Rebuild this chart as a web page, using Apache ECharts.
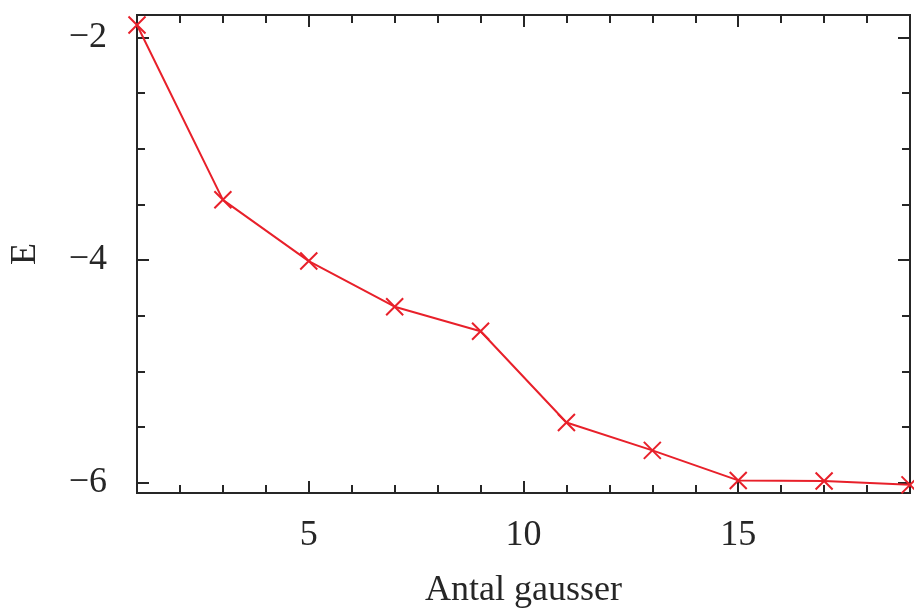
<!DOCTYPE html>
<html>
<head>
<meta charset="utf-8">
<script src="https://cdn.jsdelivr.net/npm/echarts@6/dist/echarts.min.js"></script>
<style>html,body{margin:0;padding:0;background:#fff;}#c{width:914px;height:609px;}</style>
</head>
<body>
<div id="c"></div>
<script>
const xValues = [1, 3, 5, 7, 9, 11, 13, 15, 17, 19];
const energies = [-1.89, -3.46, -4.01, -4.42, -4.64, -5.46, -5.71, -5.98, -5.985, -6.02];
const xMajorTicks = [5, 10, 15];
const xMinorTicks = [2, 3, 4, 6, 7, 8, 9, 11, 12, 13, 14, 16, 17, 18];
const yMajorTicks = [-6, -4, -2];
const yMinorTicks = [-5.5, -5, -4.5, -3.5, -3, -2.5];
const xName = 'Antal gausser';
const yName = 'E';

const font = 'Liberation Serif';
const axisColor = '#262626';
const lineColor = '#e8202a';

function fmt(v) { return (v < 0 ? '\u2212' : '') + Math.abs(v); }

function xAx(pos, ticks, len, labels) {
  return {
    type: 'value', position: pos, min: 1, max: 19,
    axisLine: { show: false },
    splitLine: { show: false },
    axisTick: { show: true, inside: true, length: len, customValues: ticks,
      lineStyle: { color: axisColor, width: 2 } },
    axisLabel: labels ? { show: true, customValues: ticks, formatter: fmt,
      fontFamily: font, fontSize: 36, color: axisColor, margin: 25 } : { show: false },
    name: labels ? xName : '',
    nameLocation: 'middle', nameGap: 80,
    nameTextStyle: { fontFamily: font, fontSize: 36, color: axisColor }
  };
}
function yAx(pos, ticks, len, labels) {
  return {
    type: 'value', position: pos, min: -6.093, max: -1.8,
    axisLine: { show: false },
    splitLine: { show: false },
    axisTick: { show: true, inside: true, length: len, customValues: ticks,
      lineStyle: { color: axisColor, width: 2 } },
    axisLabel: labels ? { show: true, customValues: ticks, formatter: fmt,
      fontFamily: font, fontSize: 36, color: axisColor, margin: 30 } : { show: false },
    name: labels ? yName : '',
    nameLocation: 'middle', nameGap: 93, nameRotate: 90,
    nameTextStyle: { fontFamily: font, fontSize: 36, color: axisColor }
  };
}

const chart = echarts.init(document.getElementById('c'), null, { renderer: 'canvas' });
chart.setOption({
  animation: false,
  backgroundColor: '#ffffff',
  grid: { left: 137, right: 4, top: 15, bottom: 116, show: true,
    outerBoundsMode: 'none', containLabel: false,
    borderColor: axisColor, borderWidth: 2, backgroundColor: 'transparent' },
  xAxis: [
    xAx('bottom', xMajorTicks, 12, true),
    xAx('bottom', xMinorTicks, 8, false),
    xAx('top', xMajorTicks, 12, false),
    xAx('top', xMinorTicks, 8, false)
  ],
  yAxis: [
    yAx('left', yMajorTicks, 12, true),
    yAx('left', yMinorTicks, 8, false),
    yAx('right', yMajorTicks, 12, false),
    yAx('right', yMinorTicks, 8, false)
  ],
  series: [{
    type: 'line',
    xAxisIndex: 0, yAxisIndex: 0,
    data: xValues.map((x, i) => [x, energies[i]]),
    clip: false,
    symbol: 'path://M0,0L10,10M10,0L0,10',
    symbolSize: 17,
    showAllSymbol: true,
    lineStyle: { color: lineColor, width: 2 },
    itemStyle: { color: lineColor, borderColor: lineColor, borderWidth: 2 }
  }]
});
</script>
</body>
</html>
